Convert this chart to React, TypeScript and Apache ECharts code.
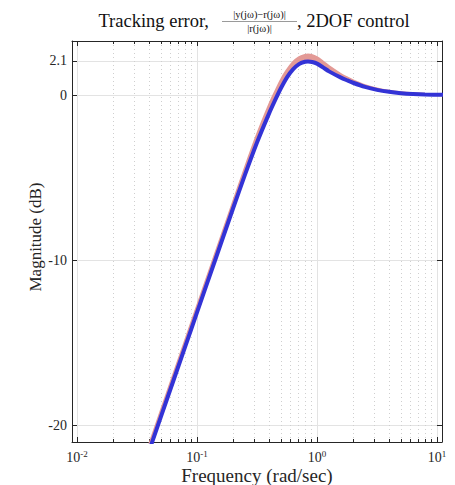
import React, { useEffect, useRef } from "react";
import * as echarts from "echarts";

// log10(frequency) vs magnitude (dB)
const blueLog = [-1.45, -1.3, -1.1, -1.0, -0.85, -0.7, -0.6, -0.5, -0.4, -0.35, -0.3, -0.25, -0.2, -0.15, -0.1, -0.075, -0.04, 0.0, 0.05, 0.1, 0.2, 0.25, 0.3, 0.4, 0.5, 0.6, 0.7, 0.8, 0.9, 1.05];
const blueDb = [-22.6, -19.45, -15.25, -13.15, -10.0, -6.85, -4.8, -2.85, -1.1, -0.3, 0.45, 1.1, 1.58, 1.9, 2.04, 2.06, 2.03, 1.93, 1.7, 1.46, 1.08, 0.92, 0.77, 0.52, 0.34, 0.22, 0.14, 0.09, 0.06, 0.04];
const redDb = [-22.3, -19.15, -14.95, -12.85, -9.7, -6.55, -4.45, -2.45, -0.65, 0.15, 0.9, 1.5, 1.98, 2.28, 2.43, 2.45, 2.41, 2.28, 2.02, 1.74, 1.26, 1.07, 0.89, 0.6, 0.39, 0.25, 0.16, 0.1, 0.07, 0.05];

const xMajor = [-2, -1, 0, 1];
const xMinor = [
  Math.log10(0.02), Math.log10(0.03), Math.log10(0.04), Math.log10(0.05), Math.log10(0.06), Math.log10(0.07), Math.log10(0.08), Math.log10(0.09),
  Math.log10(0.2), Math.log10(0.3), Math.log10(0.4), Math.log10(0.5), Math.log10(0.6), Math.log10(0.7), Math.log10(0.8), Math.log10(0.9),
  Math.log10(2), Math.log10(3), Math.log10(4), Math.log10(5), Math.log10(6), Math.log10(7), Math.log10(8), Math.log10(9),
];
const yTicks = [-20, -10, 0, 2.1];

const X_MIN = -2.042;
const X_MAX = 1.042;
const Y_MIN = -21;
const Y_MAX = 3.3;

const FONT = "Liberation Serif";
const TXT = "#262626";

export default function App() {
  const ref = useRef<HTMLDivElement>(null);
  useEffect(() => {
    if (!ref.current) return;
    const chart = echarts.init(ref.current, undefined, { renderer: "svg" });
    const blue = blueLog.map((x, i) => [x, blueDb[i]]);
    const red = blueLog.map((x, i) => [x, redDb[i]]);

    const baseX = { type: "value", min: X_MIN, max: X_MAX, scale: true };
    const baseY = { type: "value", min: Y_MIN, max: Y_MAX, scale: true };

    chart.setOption({
      animation: false,
      backgroundColor: "#ffffff",
      textStyle: { fontFamily: FONT },
      grid: { left: 72, right: 13, top: 41, bottom: 43, containLabel: false },
      xAxis: [
        {
          ...baseX,
          position: "bottom",
          axisLine: { show: true, onZero: false, lineStyle: { color: TXT, width: 1 } },
          axisTick: { show: true, inside: true, length: 5, customValues: xMajor, lineStyle: { color: TXT, width: 1 } },
          axisLabel: {
            show: true,
            customValues: xMajor,
            margin: 7,
            formatter: (v: number) => `{b|10}{s|${v}}`,
            rich: {
              b: { fontFamily: FONT, fontSize: 14, color: TXT },
              s: { fontFamily: FONT, fontSize: 9, color: TXT, padding: [0, 0, 8, 0] },
            },
          },
          splitLine: { show: true, lineStyle: { color: "#e3e3e3", width: 1 } },
        },
        {
          ...baseX,
          position: "top",
          axisLine: { show: true, onZero: false, lineStyle: { color: TXT, width: 1 } },
          axisTick: { show: true, inside: true, length: 5, customValues: xMajor, lineStyle: { color: TXT, width: 1 } },
          axisLabel: { show: false },
          splitLine: { show: false },
        },
        {
          ...baseX,
          position: "bottom",
          axisLine: { show: false, onZero: false },
          axisTick: { show: true, inside: true, length: 3, customValues: xMinor, lineStyle: { color: TXT, width: 1 } },
          axisLabel: { show: false },
          splitLine: { show: true, lineStyle: { color: "#cfcfcf", width: 1, type: [1, 3] } },
        },
        {
          ...baseX,
          position: "top",
          axisLine: { show: false, onZero: false },
          axisTick: { show: true, inside: true, length: 3, customValues: xMinor, lineStyle: { color: TXT, width: 1 } },
          axisLabel: { show: false },
          splitLine: { show: false },
        },
      ],
      yAxis: [
        {
          ...baseY,
          position: "left",
          axisLine: { show: true, onZero: false, lineStyle: { color: TXT, width: 1 } },
          axisTick: { show: true, inside: true, length: 5, customValues: yTicks, lineStyle: { color: TXT, width: 1 } },
          axisLabel: {
            show: true,
            customValues: yTicks,
            margin: 5,
            fontFamily: FONT,
            fontSize: 14,
            color: TXT,
            formatter: (v: number) => String(v),
          },
          splitLine: { show: true, lineStyle: { color: "#e3e3e3", width: 1 } },
        },
        {
          ...baseY,
          position: "right",
          axisLine: { show: true, onZero: false, lineStyle: { color: TXT, width: 1 } },
          axisTick: { show: true, inside: true, length: 5, customValues: yTicks, lineStyle: { color: TXT, width: 1 } },
          axisLabel: { show: false },
          splitLine: { show: false },
        },
      ],
      series: [
        {
          type: "custom",
          xAxisIndex: 0,
          yAxisIndex: 0,
          clip: true,
          data: [[0, 0]],
          renderItem: (params: any, api: any) => {
            const upper = red.map((p) => api.coord(p));
            const lower = blue.map((p) => api.coord(p)).reverse();
            return {
              type: "polygon",
              shape: { points: upper.concat(lower), smooth: 0.2 },
              style: { fill: "#e39a96", stroke: "none" },
            };
          },
          z: 2,
        },
        {
          type: "line",
          xAxisIndex: 0,
          yAxisIndex: 0,
          data: red,
          smooth: 0.25,
          symbol: "none",
          lineStyle: { color: "#e39a96", width: 3 },
          z: 3,
        },
        {
          type: "line",
          xAxisIndex: 0,
          yAxisIndex: 0,
          data: blue,
          smooth: 0.25,
          symbol: "none",
          lineStyle: { color: "#3333d6", width: 4 },
          z: 4,
        },
      ],
      graphic: [
        {
          type: "text",
          x: 209,
          y: 21,
          style: { text: "Tracking error,", fontFamily: FONT, fontSize: 18.5, fill: "#111", align: "right", verticalAlign: "middle" },
        },
        {
          type: "text",
          x: 259.5,
          y: 14.5,
          style: { text: "|y(jω)−r(jω)|", fontFamily: FONT, fontSize: 10.5, fill: "#111", align: "center", verticalAlign: "middle" },
        },
        {
          type: "line",
          shape: { x1: 222, y1: 21.5, x2: 297, y2: 21.5 },
          style: { stroke: "#555", lineWidth: 0.6 },
        },
        {
          type: "text",
          x: 259.5,
          y: 28.5,
          style: { text: "|r(jω)|", fontFamily: FONT, fontSize: 10.5, fill: "#111", align: "center", verticalAlign: "middle" },
        },
        {
          type: "text",
          x: 297,
          y: 21,
          style: { text: ", 2DOF control", fontFamily: FONT, fontSize: 18.5, fill: "#111", align: "left", verticalAlign: "middle" },
        },
        {
          type: "text",
          x: 35,
          y: 237,
          rotation: Math.PI / 2,
          style: { text: "Magnitude (dB)", fontFamily: FONT, fontSize: 17, fill: TXT, align: "center", verticalAlign: "middle" },
        },
        {
          type: "text",
          x: 257,
          y: 475,
          style: { text: "Frequency (rad/sec)", fontFamily: FONT, fontSize: 19, fill: TXT, align: "center", verticalAlign: "middle" },
        },
      ],
    });
    return () => chart.dispose();
  }, []);
  return <div ref={ref} style={{ width: 455, height: 485, position: "absolute", left: 0, top: 0 }} />;
}
